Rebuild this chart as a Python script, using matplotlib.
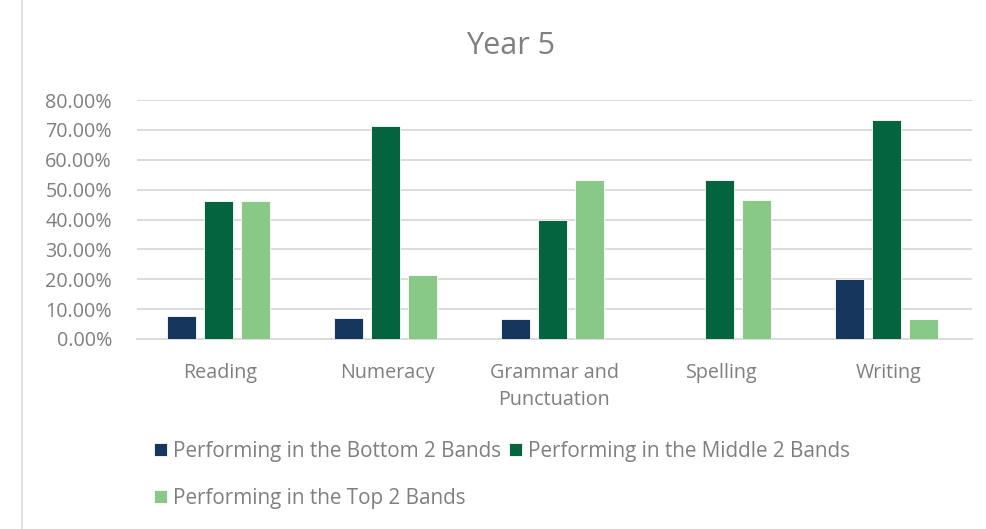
import matplotlib.pyplot as plt
import numpy as np
from matplotlib.ticker import PercentFormatter

plt.rcParams['font.family'] = ['Open Sans', 'DejaVu Sans']

subjects = ['Reading', 'Numeracy', 'Grammar and\nPunctuation', 'Spelling', 'Writing']
bottom_2 = [7.69, 7.14, 6.67, 0.0, 20.00]
middle_2 = [46.15, 71.43, 40.00, 53.33, 73.33]
top_2 = [46.15, 21.43, 53.33, 46.67, 6.67]

series = [
    ('Performing in the Bottom 2 Bands', bottom_2, '#17365d'),
    ('Performing in the Middle 2 Bands', middle_2, '#04643e'),
    ('Performing in the Top 2 Bands', top_2, '#88c987'),
]

grey = '#7f7f7f'
fs = 14.2

fig = plt.figure(figsize=(9.86, 5.29), dpi=100)
ax = fig.add_axes([137 / 986, 1 - 339 / 529, (972 - 137) / 986, (339 - 100) / 529])

x = np.arange(len(subjects))
width = 0.174
step = 0.222
bars = []
for i, (name, vals, color) in enumerate(series):
    bars.append(ax.bar(x + (i - 1) * step - 0.01, vals, width, color=color, label=name,
                       edgecolor='white', linewidth=0.6, zorder=3))

ax.set_xlim(-0.5, len(subjects) - 0.5)
ax.set_ylim(0, 80)
ax.set_yticks(np.arange(0, 81, 10))
ax.yaxis.set_major_formatter(PercentFormatter(decimals=2))
ax.grid(axis='y', color='#d9d9d9', linewidth=1.3, zorder=0)
for s in ax.spines.values():
    s.set_visible(False)
ax.spines['bottom'].set_visible(True)
ax.spines['bottom'].set_color('#d9d9d9')
ax.spines['bottom'].set_linewidth(1.3)

ax.set_xticks(x)
ax.set_xticklabels(subjects, linespacing=1.5)
ax.tick_params(axis='both', length=0, colors=grey, labelsize=fs)
ax.tick_params(axis='x', pad=17)
ax.tick_params(axis='y', pad=18)

fig.text(511 / 986, 1 - 46 / 529, 'Year 5', ha='center', va='center',
         fontsize=22, color=grey)

# legend fills column-first, so order handles to read row by row
order = [0, 2, 1]
fig.legend([bars[i] for i in order], [series[i][0] for i in order],
           loc='upper left', bbox_to_anchor=(154 / 986, 1 - 441 / 529), ncol=2,
           frameon=False, fontsize=14.9, labelcolor=grey, handlelength=0.62,
           handleheight=0.62, handletextpad=0.3, columnspacing=0.4,
           labelspacing=1.25, borderpad=0, borderaxespad=0)

# chart area border
fig.add_artist(plt.Line2D([22 / 986, 22 / 986], [0, 1], color='#d9d9d9', linewidth=1.2))

fig.savefig('out.png', dpi=100, facecolor='white')
